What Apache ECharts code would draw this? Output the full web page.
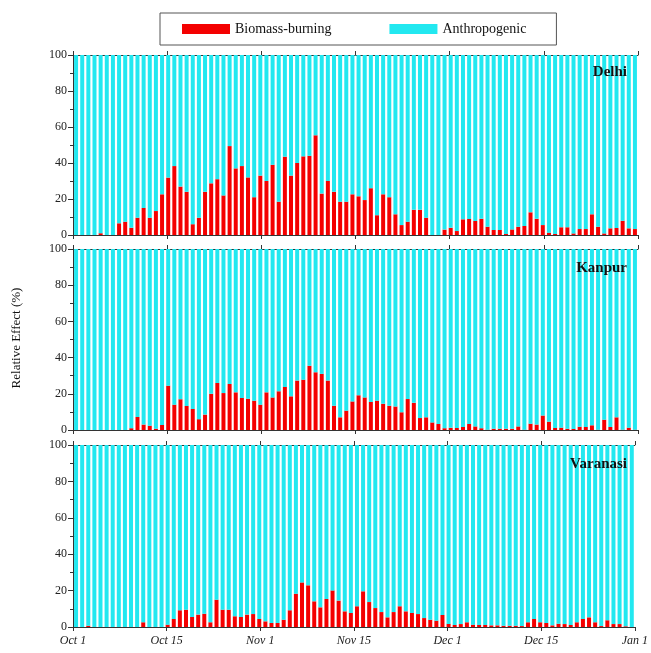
<!DOCTYPE html>
<html>
<head>
<meta charset="utf-8">
<script src="https://cdn.jsdelivr.net/npm/echarts@6/dist/echarts.min.js"></script>
<style>
html,body{margin:0;padding:0;background:#fff;}
#chart{width:651px;height:653px;}
</style>
</head>
<body>
<div id="chart"></div>
<script>
// ---- data ----
const months = ['Oct', 'Nov', 'Dec'];
const monthDays = [31, 30, 31];
const tickLabels = ['Oct 1', 'Oct 15', 'Nov 1', 'Nov 15', 'Dec 1', 'Dec 15', 'Jan 1'];
const cities = ['Delhi', 'Kanpur', 'Varanasi'];
const seriesNames = ['Biomass-burning', 'Anthropogenic'];

const delhiBiomass = [
  0,0,0,0,1,0,0,6.5,7.4,4,
  9.6,15,9.6,13.3,22.6,31.9,38.3,26.9,24,6,
  9.6,24,28.7,31,22,49.4,37,38.3,32,21,
  33,30,39,18.5,43.5,33,40,43.7,44,55.4,
  23,30,24,18.5,18.5,22.6,21.5,19.4,26,11,
  22.6,21,11.5,5.5,7.4,14,14,9.6,0,0,
  3,4,2.2,8.7,8.9,7.8,9,4.6,2.8,2.8,
  0.6,3.1,4.6,5,12.6,9,5.5,1.3,0.6,4.3,
  4.3,0.9,3.3,3.3,11.5,4.6,0.9,3.7,3.9,7.9,
  3.7,3.3
];
const kanpurBiomass = [
  0,0,0,0,0,0,0,0,0,1,
  7.2,3,2.4,0.7,2.8,24.5,14,17,13.3,11.6,
  6,8.5,20,26,20.4,25.4,20.8,17.7,17.3,16.2,
  14,20.8,18,21.4,23.8,18.6,27.3,27.8,35.5,31.9,
  31,27.3,13.4,7,10.7,15.8,19.2,18,15.5,16.2,
  14.5,13.4,13,9.8,17.1,15,6.6,7,4.2,3.3,
  1,1.2,1.1,1.7,3.3,2,1,0.2,0.7,0.7,
  0.7,0.7,2,0.2,3.5,3,8,4.6,1.1,1.3,
  0.7,0.6,1.8,1.7,2.6,0.2,5.7,1.7,7,0.2,
  1.3,0.2
];
const varanasiBiomass = [
  0,0,0.7,0,0,0,0,0,0,0,
  0,2.6,0,0,0,1.3,4.4,9.2,9.5,5.5,
  6.8,7.3,2.6,15,9.5,9.5,5.9,5.5,6.8,7.1,
  4.4,3.1,2.2,2.2,4,9.2,18.3,24.5,22.9,14.1,
  10.8,15.4,20.1,14.5,8.6,7.7,11.4,19.6,13.7,10.4,
  8.2,5.3,8.2,11.4,8.6,7.7,7.1,4.9,4,3.5,
  6.6,1.7,1.1,1.6,2.6,1.3,1.1,1.1,0.9,0.9,
  0.7,0.7,0.7,0.5,2.6,4.4,2.6,2.2,0.9,1.8,
  1.6,1.1,2.6,4.4,5.3,2.6,0.5,3.7,1.6,1.6,
  0.4,0
];
const biomassByCity = [delhiBiomass, kanpurBiomass, varanasiBiomass];

// ---- build ----
const categories = [];
months.forEach((m, k) => { for (let d = 1; d <= monthDays[k]; d++) categories.push(m + ' ' + d); });

const RED = '#f40000';
const CYAN = '#22e8f0';
const AX = '#333';
const FONT = '"Liberation Serif", "DejaVu Serif", serif';

const gridTops = [55, 249, 445];
const gridHeights = [180, 181, 182];

const grid = [], xAxis = [], yAxis = [], series = [];
for (let g = 0; g < 3; g++) {
  grid.push({left: 73, right: 13, top: gridTops[g], height: gridHeights[g], containLabel: false});
  xAxis.push({type: 'category', gridIndex: g, data: categories, boundaryGap: true,
    axisLine: {show: true, lineStyle: {color: AX, width: 1}}, axisTick: {show: false},
    axisLabel: {show: false}, splitLine: {show: false}, z: 5});
  xAxis.push({type: 'value', gridIndex: g, min: 0, max: 6, interval: 1, position: 'bottom',
    axisLine: {show: false}, axisTick: {show: true, length: 4, lineStyle: {color: AX}},
    axisLabel: {show: g === 2, margin: 8, fontFamily: FONT, fontStyle: 'italic', fontSize: 12, color: '#222',
      formatter: v => tickLabels[Math.round(v)]},
    splitLine: {show: false}});
  xAxis.push({type: 'value', gridIndex: g, min: 0, max: 6, interval: 1, position: 'top',
    axisLine: {show: true, lineStyle: {color: AX, width: 1}}, axisTick: {show: true, length: 4, lineStyle: {color: AX}},
    axisLabel: {show: false}, splitLine: {show: false}});
  yAxis.push({type: 'value', gridIndex: g, min: 0, max: 100, interval: 20, position: 'left',
    axisLine: {show: true, lineStyle: {color: AX, width: 1}},
    axisTick: {show: true, length: 5, lineStyle: {color: AX}},
    minorTick: {show: true, splitNumber: 2, length: 3, lineStyle: {color: AX}},
    axisLabel: {show: true, margin: 6, fontFamily: FONT, fontSize: 12, color: '#222'},
    splitLine: {show: false}, minorSplitLine: {show: false}});
  yAxis.push({type: 'value', gridIndex: g, min: 0, max: 100, interval: 20, position: 'right',
    axisLine: {show: true, lineStyle: {color: AX, width: 1}},
    axisTick: {show: true, length: 5, lineStyle: {color: AX}},
    minorTick: {show: true, splitNumber: 2, length: 3, lineStyle: {color: AX}},
    axisLabel: {show: false}, splitLine: {show: false}, minorSplitLine: {show: false}});

  const bio = biomassByCity[g];
  const anthro = bio.map(v => +(100 - v).toFixed(2));
  series.push({name: seriesNames[0], type: 'bar', xAxisIndex: 3 * g, yAxisIndex: 2 * g, stack: 's' + g,
    data: bio, barWidth: 4, itemStyle: {color: RED}, silent: true, animation: false});
  series.push({name: seriesNames[1], type: 'bar', xAxisIndex: 3 * g, yAxisIndex: 2 * g, stack: 's' + g,
    data: anthro, barWidth: 4, itemStyle: {color: CYAN}, silent: true, animation: false});
}

const cityTextTops = [65, 261, 457];
const graphic = cities.map((c, g) => ({
  type: 'text', right: 24, top: cityTextTops[g], z: 100,
  style: {text: c, font: 'bold 15px ' + FONT, fill: '#111'}
}));
graphic.push({
  type: 'text', x: 17, y: 338, rotation: Math.PI / 2, z: 100,
  style: {text: 'Relative Effect (%)', font: '13px ' + FONT, fill: '#111', align: 'center', verticalAlign: 'middle'}
});

const chart = echarts.init(document.getElementById('chart'), null, {renderer: 'canvas'});
chart.setOption({
  animation: false,
  backgroundColor: '#fff',
  grid, xAxis, yAxis, series, graphic,
  legend: {
    data: seriesNames,
    left: 160, top: 13,
    padding: [9, 30, 9, 22],
    itemGap: 58,
    itemWidth: 48, itemHeight: 10,
    icon: 'rect',
    borderColor: '#555', borderWidth: 1,
    textStyle: {fontFamily: FONT, fontSize: 14, color: '#111'},
    selectedMode: false
  }
});
</script>
</body>
</html>
